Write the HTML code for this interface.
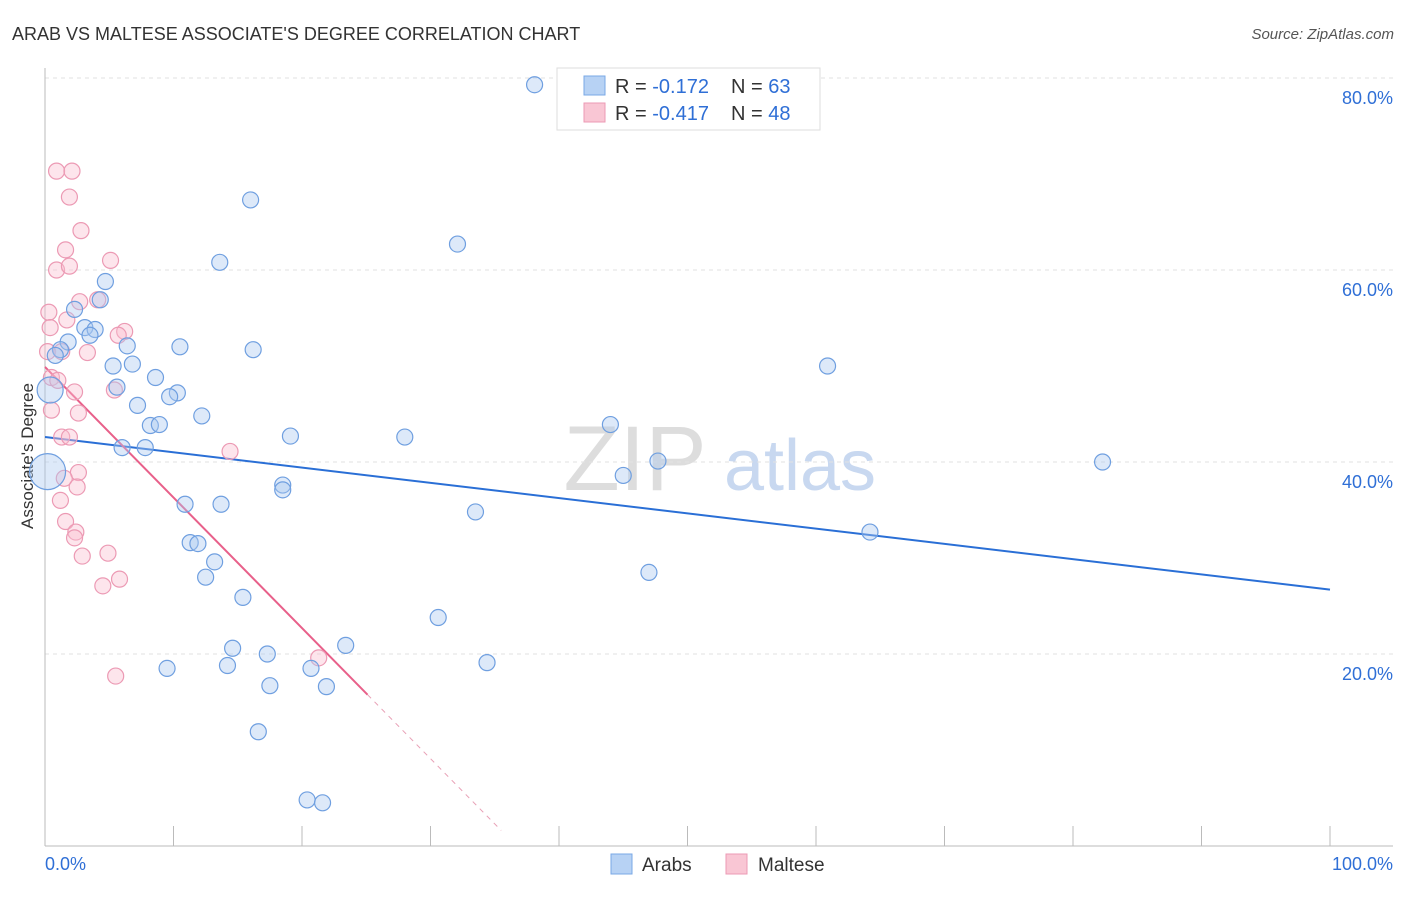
<!DOCTYPE html>
<html><head><meta charset="utf-8"><style>
body{margin:0;background:#fff;font-family:"Liberation Sans",sans-serif}
svg text{font-family:"Liberation Sans",sans-serif}
</style></head><body>
<svg id="chart" width="1406" height="892" viewBox="0 0 1406 892">
<text x="12" y="40" font-size="18" fill="#333">ARAB VS MALTESE ASSOCIATE'S DEGREE CORRELATION CHART</text>
<text x="1394" y="39" font-size="15" fill="#555" font-style="italic" text-anchor="end">Source: ZipAtlas.com</text>
<text x="0" y="0" font-size="17" fill="#333" text-anchor="middle" transform="translate(33,456) rotate(-90)">Associate's Degree</text>
<g><text x="635" y="490" font-size="92" fill="#ddd" font-family="Liberation Serif" text-anchor="middle">ZIP</text><text x="800" y="490" font-size="72" fill="#c8d8f0" text-anchor="middle">atlas</text></g>
<g id="grid"></g><g id="axes"></g><g id="trends"></g><g id="points"></g>
<g>
<rect x="557" y="68" width="263" height="62" fill="#fff" stroke="#ddd"/>
<rect x="584" y="76" width="21" height="19" fill="#b7d2f4" stroke="#7aa8e6"/>
<rect x="584" y="103" width="21" height="19" fill="#f9c6d4" stroke="#ec9ab4"/>
<text x="615" y="93" font-size="20" fill="#333">R = <tspan fill="#2f6fd6">-0.172</tspan><tspan x="731">N = </tspan><tspan fill="#2f6fd6">63</tspan></text>
<text x="615" y="120" font-size="20" fill="#333">R = <tspan fill="#2f6fd6">-0.417</tspan><tspan x="731">N = </tspan><tspan fill="#2f6fd6">48</tspan></text>
</g>
<g>
<rect x="611" y="854" width="21" height="20" fill="#b7d2f4" stroke="#7aa8e6"/><text x="642" y="871" font-size="19" fill="#333">Arabs</text>
<rect x="726" y="854" width="21" height="20" fill="#f9c6d4" stroke="#ec9ab4"/><text x="758" y="871" font-size="19" fill="#333">Maltese</text>
</g>
</svg>
<script>
const yTicks=[20,40,60,80];
const yTickLabels=["20.0%","40.0%","60.0%","80.0%"];
const xLabels=["0.0%","100.0%"];
const arabsX=[38.1,16.0,32.1,13.6,4.7,4.3,2.3,3.1,3.9,3.5,1.8,1.2,0.8,6.4,10.5,16.2,5.3,6.8,8.6,5.6,10.3,9.7,7.2,12.2,8.2,8.9,19.1,28.0,44.0,6.0,7.8,60.9,82.3,47.7,45.0,18.5,18.5,10.9,13.7,33.5,64.2,11.3,11.9,13.2,12.5,47.0,15.4,30.6,23.4,14.6,17.3,9.5,14.2,20.7,34.4,17.5,21.9,16.6,20.4,21.6,0.2,0.4];
const arabsY=[79.3,67.3,62.7,60.8,58.8,56.9,55.9,54.0,53.8,53.2,52.5,51.7,51.1,52.1,52.0,51.7,50.0,50.2,48.8,47.8,47.2,46.8,45.9,44.8,43.8,43.9,42.7,42.6,43.9,41.5,41.5,50.0,40.0,40.1,38.6,37.6,37.1,35.6,35.6,34.8,32.7,31.6,31.5,29.6,28.0,28.5,25.9,23.8,20.9,20.6,20.0,18.5,18.8,18.5,19.1,16.7,16.6,11.9,4.8,4.5,39.0,47.5];
const arabsR=[8,8,8,8,8,8,8,8,8,8,8,8,8,8,8,8,8,8,8,8,8,8,8,8,8,8,8,8,8,8,8,8,8,8,8,8,8,8,8,8,8,8,8,8,8,8,8,8,8,8,8,8,8,8,8,8,8,8,8,8,18,13];
const malteseX=[0.9,2.1,1.9,2.8,1.6,5.1,0.9,1.9,0.3,4.1,2.7,1.7,0.4,6.2,5.7,3.3,0.2,1.3,0.5,1.0,5.4,2.3,0.5,2.6,1.3,1.9,14.4,2.6,1.5,2.5,1.2,1.6,2.4,2.3,2.9,4.9,5.8,4.5,5.5,21.3];
const malteseY=[70.3,70.3,67.6,64.1,62.1,61.0,60.0,60.4,55.6,56.9,56.7,54.8,54.0,53.6,53.2,51.4,51.5,51.5,48.8,48.5,47.5,47.3,45.4,45.1,42.6,42.6,41.1,38.9,38.3,37.4,36.0,33.8,32.7,32.1,30.2,30.5,27.8,27.1,17.7,19.6];
const arabsTrend=[42.6,26.7];
const malteseTrend=[49.9,-1.36];
const X=v=>45+v*12.85, Y=v=>846-v*9.6;
const NS="http://www.w3.org/2000/svg";
function mk(tag,attrs,parent){const e=document.createElementNS(NS,tag);for(const k in attrs)e.setAttribute(k,attrs[k]);parent.appendChild(e);return e;}
const grid=document.getElementById('grid'),axes=document.getElementById('axes'),tr=document.getElementById('trends'),pts=document.getElementById('points');
yTicks.forEach((t,i)=>{
 const l=mk('line',{x1:45,x2:1393,y1:Y(t),y2:Y(t),stroke:'#e2e2e2','stroke-dasharray':'4,4'},grid);
 
 
 const tx=mk('text',{x:1393,y:Y(t)+26,'font-size':18,fill:'#2f6fd6','text-anchor':'end'},axes);tx.textContent=yTickLabels[i];
 
 
});
const ax=mk('line',{x1:45,x2:1393,y1:846,y2:846,stroke:'#bbb'},axes);


const ay=mk('line',{x1:45,x2:45,y1:68,y2:846,stroke:'#bbb'},axes);


for(let i=0;i<=10;i++){const t=mk('line',{x1:X(i*10),x2:X(i*10),y1:826,y2:846,stroke:'#bbb'},axes);
 
 }
const xl0=mk('text',{x:45,y:870,'font-size':18,fill:'#2f6fd6'},axes);xl0.textContent=xLabels[0];


const xl1=mk('text',{x:1393,y:870,'font-size':18,fill:'#2f6fd6','text-anchor':'end'},axes);xl1.textContent=xLabels[1];


function dots(xs,ys,rs,fill,stroke,name){xs.forEach((x,i)=>{const c=mk('circle',{cx:X(x),cy:Y(ys[i]),r:rs?rs[i]:8,fill:fill,stroke:stroke,'stroke-width':1.2},pts);
 
 });}
dots(malteseX,malteseY,null,'rgba(249,190,208,0.4)','#ec9ab4','maltese-point');
dots(arabsX,arabsY,arabsR,'rgba(170,200,240,0.4)','#6f9fe0','arabs-point');
const bt=mk('line',{x1:X(0),y1:Y(arabsTrend[0]),x2:X(100),y2:Y(arabsTrend[1]),stroke:'#2a6fd6','stroke-width':2},tr);


const mf=x=>malteseTrend[0]+malteseTrend[1]*x;
const pt=mk('line',{x1:X(0),y1:Y(mf(0)),x2:X(25.1),y2:Y(mf(25.1)),stroke:'#e8608a','stroke-width':2},tr);


const pd=mk('line',{x1:X(25.1),y1:Y(mf(25.1)),x2:X(35.5),y2:Y(mf(35.5)),stroke:'#e8a0b6','stroke-width':1,'stroke-dasharray':'5,5'},tr);


</script>
</body></html>
